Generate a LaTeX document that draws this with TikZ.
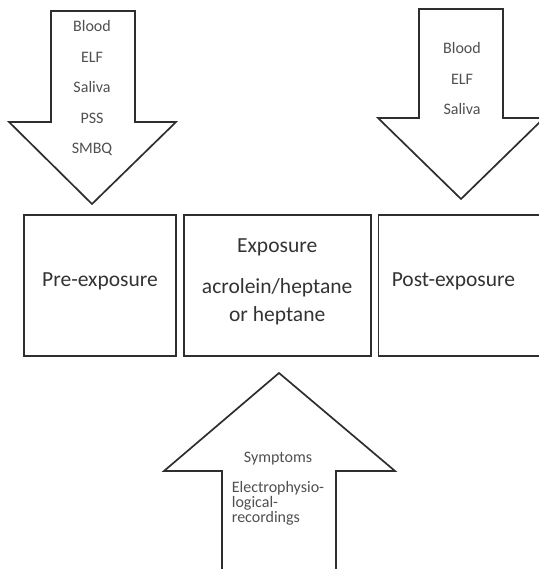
\documentclass[tikz,border=0pt]{standalone}
\usepackage{fontspec}
\setmainfont{Carlito}
\usetikzlibrary{positioning}
\definecolor{linegray}{HTML}{2E2E2E}
\definecolor{textgray}{HTML}{505050}
\definecolor{labelgray}{HTML}{333333}
\tikzstyle{stagebox}=[rectangle,draw=linegray,line width=1.7pt,minimum height=141pt,inner sep=0pt]
\tikzstyle{stagetext}=[text=labelgray,font=\fontsize{21.5}{28}\selectfont,align=center,inner sep=0pt]
\tikzstyle{blockarrow}=[draw=linegray,line width=1.7pt,fill=white,line join=miter]
\tikzstyle{recordtext}=[text=textgray,font=\fontsize{16}{15}\selectfont,inner sep=0pt,align=left]
\tikzstyle{arrowtext}=[recordtext,text height=11pt,text depth=3pt]

\begin{document}
\begin{tikzpicture}[x=1pt,y=-1pt,node distance=16pt]
    \useasboundingbox (0,0) rectangle (538,569);

    \draw[blockarrow] (51,11) -- (135,11) -- (135,122) -- (176,122) -- (92,204)
        -- (9,122) -- (51,122) -- cycle;
    \draw[blockarrow] (419,9) -- (503,9) -- (503,118) -- (544,118) -- (461,199)
        -- (378,118) -- (419,118) -- cycle;
    \draw[blockarrow] (279,373) -- (395,471) -- (336,471) -- (336,580)
        -- (222,580) -- (222,471) -- (164,471) -- cycle;

    \node[stagebox, minimum width=152pt] (pre) at (100,285.5) {};
    \node[stagebox, minimum width=187pt, right=6pt of pre] (expo) {};
    \node[stagebox, minimum width=190pt, right=6pt of expo] (post) {};

    \node[stagetext] (pretext) at ([yshift=4pt]pre.center) {Pre-exposure};
    \node[stagetext] (expotext) at ([yshift=4pt]expo.center)
        {Exposure\\[13pt]acrolein/heptane\\or heptane};
    \node[stagetext] (posttext) at ([xshift=-20pt,yshift=4pt]post.center) {Post-exposure};

    \node[arrowtext] (blood1) at (92,28) {Blood};
    \node[arrowtext, below =of blood1] (elf1) {ELF};
    \node[arrowtext, below =of elf1] (saliva1) {Saliva};
    \node[arrowtext, below =of saliva1] (pss) {PSS};
    \node[arrowtext, below =of pss] (smbq) {SMBQ};

    \node[arrowtext] (blood2) at (462,50) {Blood};
    \node[arrowtext, below =of blood2] (elf2) {ELF};
    \node[arrowtext, below =of elf2] (saliva2) {Saliva};

    \node[arrowtext] (sympt) at (278,458) {Symptoms};
    \node[recordtext, below =of sympt] (ephys) {Electrophysio-\\logical-\\recordings};
\end{tikzpicture}
\end{document}
